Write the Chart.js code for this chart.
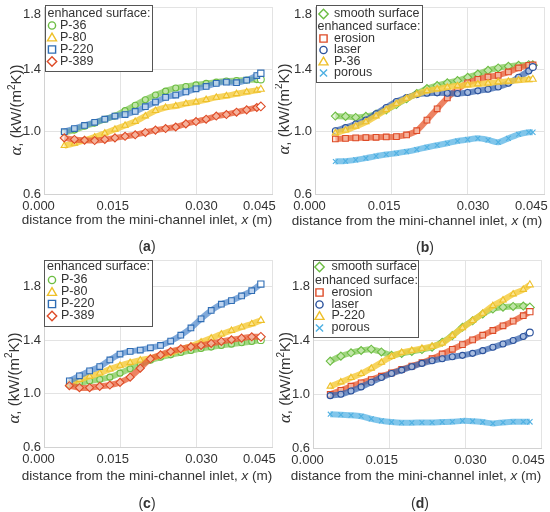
<!DOCTYPE html>
<html>
<head>
<meta charset="utf-8">
<title>Heat transfer coefficient along the mini-channel</title>
<script src="https://cdn.jsdelivr.net/npm/chart.js@4.4.1/dist/chart.umd.min.js"></script>
<style>
  html, body { margin: 0; padding: 0; background: #fff; }
  #wrap { position: relative; width: 550px; height: 512px; overflow: hidden; }
  #wrap canvas { position: absolute; }
</style>
</head>
<body>
<div id="wrap">
  <canvas id="chartA" width="300" height="256" style="left:0;top:0"></canvas>
  <canvas id="chartB" width="275" height="256" style="left:275px;top:0"></canvas>
  <canvas id="chartC" width="300" height="256" style="left:0;top:256px"></canvas>
  <canvas id="chartD" width="275" height="256" style="left:275px;top:256px"></canvas>
</div>
<script>
// ---- data ----
const xTickValues = [0, 0.015, 0.030, 0.045];
const xTickLabels = ['0.000', '0.015', '0.030', '0.045'];
const yTicksShort = [0.6, 1.0, 1.4, 1.8];
const yTicksTall = [0.6, 1.0, 1.4, 1.8, 2.0];
const yTickLabels = ['0.6', '1.0', '1.4', '1.8', ''];

// distance from inlet, x (m)
const xAB = [0.004, 0.006, 0.008, 0.010, 0.012, 0.014, 0.016, 0.018, 0.020, 0.022, 0.024, 0.026, 0.028, 0.030, 0.032, 0.034, 0.036, 0.038, 0.040, 0.042, 0.0428];
const xC = [0.005, 0.007, 0.009, 0.011, 0.013, 0.015, 0.017, 0.019, 0.021, 0.023, 0.025, 0.027, 0.029, 0.031, 0.033, 0.035, 0.037, 0.039, 0.041, 0.0428];
const xD = [0.0034, 0.0055, 0.0075, 0.0095, 0.0115, 0.0135, 0.0155, 0.0175, 0.0195, 0.0215, 0.0235, 0.0255, 0.0275, 0.0295, 0.0315, 0.0335, 0.0355, 0.0375, 0.0395, 0.0415, 0.0428];

// (a) alpha, kW/(m2K)
const aP36 = [0.995, 1.01, 1.035, 1.055, 1.08, 1.10, 1.135, 1.17, 1.205, 1.235, 1.26, 1.28, 1.29, 1.30, 1.31, 1.318, 1.325, 1.328, 1.331, 1.334, 1.335];
const aP80 = [0.91, 0.925, 0.945, 0.965, 0.99, 1.015, 1.04, 1.065, 1.10, 1.135, 1.155, 1.165, 1.18, 1.19, 1.205, 1.22, 1.23, 1.243, 1.255, 1.265, 1.272];
const aP220 = [1.00, 1.02, 1.04, 1.06, 1.08, 1.10, 1.11, 1.13, 1.16, 1.19, 1.22, 1.235, 1.255, 1.275, 1.29, 1.31, 1.318, 1.314, 1.33, 1.36, 1.375];
const aP389 = [0.96, 0.95, 0.945, 0.943, 0.95, 0.96, 0.97, 0.98, 0.995, 1.01, 1.02, 1.03, 1.05, 1.065, 1.08, 1.10, 1.11, 1.125, 1.14, 1.155, 1.162];

// (b)
const bSmooth = [1.10, 1.098, 1.091, 1.098, 1.113, 1.14, 1.174, 1.211, 1.245, 1.277, 1.296, 1.313, 1.328, 1.349, 1.37, 1.394, 1.409, 1.419, 1.426, 1.43, 1.426];
const bErosion = [0.953, 0.957, 0.96, 0.962, 0.964, 0.966, 0.968, 0.979, 1.006, 1.074, 1.147, 1.217, 1.272, 1.313, 1.336, 1.351, 1.362, 1.383, 1.409, 1.426, 1.426];
const bLaser = [1.006, 1.026, 1.049, 1.074, 1.115, 1.155, 1.194, 1.219, 1.238, 1.247, 1.249, 1.247, 1.245, 1.251, 1.262, 1.272, 1.287, 1.311, 1.349, 1.389, 1.415];
const bP36 = [0.991, 1.009, 1.034, 1.062, 1.10, 1.14, 1.179, 1.213, 1.24, 1.262, 1.274, 1.285, 1.294, 1.30, 1.306, 1.311, 1.319, 1.323, 1.33, 1.334, 1.336];
const bPorous = [0.809, 0.811, 0.819, 0.83, 0.843, 0.853, 0.862, 0.872, 0.885, 0.90, 0.913, 0.926, 0.94, 0.949, 0.957, 0.947, 0.932, 0.957, 0.983, 0.996, 0.996];

// (c)
const cP36 = [1.067, 1.079, 1.094, 1.106, 1.123, 1.153, 1.185, 1.22, 1.25, 1.272, 1.29, 1.307, 1.322, 1.337, 1.348, 1.36, 1.37, 1.38, 1.39, 1.40];
const cP80 = [1.077, 1.104, 1.128, 1.153, 1.183, 1.21, 1.232, 1.25, 1.265, 1.285, 1.305, 1.33, 1.355, 1.385, 1.415, 1.445, 1.472, 1.497, 1.522, 1.548];
const cP220 = [1.095, 1.133, 1.17, 1.202, 1.252, 1.296, 1.316, 1.326, 1.343, 1.36, 1.393, 1.437, 1.491, 1.56, 1.622, 1.669, 1.696, 1.731, 1.77, 1.82];
const cP389 = [1.059, 1.044, 1.044, 1.054, 1.064, 1.084, 1.123, 1.19, 1.26, 1.29, 1.315, 1.335, 1.35, 1.36, 1.375, 1.39, 1.403, 1.415, 1.425, 1.425];

// (d)
const dSmooth = [1.247, 1.284, 1.309, 1.326, 1.336, 1.315, 1.291, 1.304, 1.319, 1.333, 1.351, 1.388, 1.437, 1.499, 1.548, 1.598, 1.635, 1.649, 1.654, 1.657, 1.647];
const dErosion = [1.0, 1.03, 1.06, 1.085, 1.11, 1.135, 1.16, 1.185, 1.21, 1.235, 1.265, 1.30, 1.335, 1.37, 1.405, 1.44, 1.475, 1.51, 1.545, 1.585, 1.615];
const dLaser = [0.99, 1.0, 1.025, 1.055, 1.09, 1.125, 1.155, 1.18, 1.205, 1.23, 1.25, 1.265, 1.28, 1.29, 1.305, 1.325, 1.35, 1.375, 1.40, 1.43, 1.46];
const dP220 = [1.059, 1.091, 1.123, 1.153, 1.193, 1.237, 1.281, 1.311, 1.326, 1.341, 1.356, 1.38, 1.437, 1.494, 1.548, 1.602, 1.659, 1.701, 1.746, 1.78, 1.815];
const dPorous = [0.852, 0.847, 0.844, 0.837, 0.817, 0.802, 0.793, 0.788, 0.788, 0.79, 0.79, 0.793, 0.795, 0.802, 0.80, 0.793, 0.783, 0.79, 0.795, 0.795, 0.795];

const legendHeader = 'enhanced surface:';

// ---- look ----
const FONT = '"Liberation Sans", Arial, Helvetica, sans-serif';
const TEXT = '#333';
const GRID = '#e3e3e3';
const AXIS = '#d2d2d2';

const palette = {
  green:  {stroke: '#6cbd43', band: 'rgba(138, 204, 96, 0.8)',  fill: 'rgba(214, 240, 195, 0.6)'},
  yellow: {stroke: '#eec02a', band: 'rgba(246, 204, 66, 0.85)', fill: 'rgba(255, 240, 180, 0.6)'},
  blue:   {stroke: '#2f6db4', band: 'rgba(86, 140, 205, 0.75)', fill: 'rgba(215, 230, 248, 0.7)'},
  red:    {stroke: '#de4b27', band: 'rgba(232, 100, 60, 0.8)',  fill: 'rgba(252, 210, 195, 0.6)'},
  navy:   {stroke: '#2b529c', band: 'rgba(62, 105, 178, 0.75)', fill: 'rgba(205, 218, 240, 0.6)'},
  sky:    {stroke: '#4fb0e2', band: 'rgba(98, 184, 230, 0.8)',  fill: 'rgba(210, 235, 250, 0.6)'}
};
const markerRadius = {circle: 3, triangle: 3.6, rect: 4, rectRot: 4, crossRot: 3.4};

// px shift of each x tick label from its grid line (as in the original figure)
const xLabelShift = [-6, -7, 5, -13];

const panels = [
  {
    canvas: 'chartA', letter: 'a', width: 300, height: 256,
    area: {left: 44, top: 7, right: 272, bottom: 194},
    yMax: 1.8, yTicks: yTicksShort, topLabelDown: true,
    yTitleAt: [17, 110], xTitleAt: [147, 220], captionAt: [147, 247],
    legend: {x: 45, y: 5, w: 107, h: 66, headerX: 47.5, markerX: 52, textX: 60,
             rowY: [14, 25.5, 37.5, 49.5, 61.5], rows: ['header', 0, 1, 2, 3]},
    series: [
      {label: 'P-36', x: xAB, y: aP36, color: 'green', marker: 'circle'},
      {label: 'P-80', x: xAB, y: aP80, color: 'yellow', marker: 'triangle'},
      {label: 'P-220', x: xAB, y: aP220, color: 'blue', marker: 'rect'},
      {label: 'P-389', x: xAB, y: aP389, color: 'red', marker: 'rectRot'}
    ]
  },
  {
    canvas: 'chartB', letter: 'b', width: 275, height: 256,
    area: {left: 40, top: 7, right: 269, bottom: 194},
    yMax: 1.8, yTicks: yTicksShort, topLabelDown: true,
    yTitleAt: [9.5, 109], xTitleAt: [142, 221], captionAt: [150, 248],
    legend: {x: 41, y: 5, w: 106, h: 77, headerX: 42.5, markerX: 48.5, textX: 59,
             rowY: [14, 26.5, 38.5, 50, 61.5, 73], rows: [0, 'header', 1, 2, 3, 4]},
    series: [
      {label: 'smooth surface', x: xAB, y: bSmooth, color: 'green', marker: 'rectRot'},
      {label: 'erosion', x: xAB, y: bErosion, color: 'red', marker: 'rect'},
      {label: 'laser', x: xAB, y: bLaser, color: 'navy', marker: 'circle'},
      {label: 'P-36', x: xAB, y: bP36, color: 'yellow', marker: 'triangle'},
      {label: 'porous', x: xAB, y: bPorous, color: 'sky', marker: 'crossRot'}
    ]
  },
  {
    canvas: 'chartC', letter: 'c', width: 300, height: 256,
    area: {left: 44, top: 4, right: 272, bottom: 191},
    yMax: 2.0, yTicks: yTicksTall, topLabelDown: false,
    yTitleAt: [14.5, 122], xTitleAt: [147, 220], captionAt: [147, 248],
    legend: {x: 44, y: 4, w: 108, h: 66, headerX: 47, markerX: 52, textX: 61,
             rowY: [11, 24, 36, 48, 60], rows: ['header', 0, 1, 2, 3]},
    series: [
      {label: 'P-36', x: xC, y: cP36, color: 'green', marker: 'circle'},
      {label: 'P-80', x: xC, y: cP80, color: 'yellow', marker: 'triangle'},
      {label: 'P-220', x: xC, y: cP220, color: 'blue', marker: 'rect'},
      {label: 'P-389', x: xC, y: cP389, color: 'red', marker: 'rectRot'}
    ]
  },
  {
    canvas: 'chartD', letter: 'd', width: 275, height: 256,
    area: {left: 38, top: 4, right: 266, bottom: 192},
    yMax: 2.0, yTicks: yTicksTall, topLabelDown: false,
    yTitleAt: [11, 121.5], xTitleAt: [141, 220], captionAt: [145, 248],
    legend: {x: 38, y: 4, w: 105, h: 77, headerX: 40, markerX: 44.5, textX: 56.5,
             rowY: [11, 24.5, 36.5, 48.5, 60, 72], rows: [0, 'header', 1, 2, 3, 4]},
    series: [
      {label: 'smooth surface', x: xD, y: dSmooth, color: 'green', marker: 'rectRot'},
      {label: 'erosion', x: xD, y: dErosion, color: 'red', marker: 'rect'},
      {label: 'laser', x: xD, y: dLaser, color: 'navy', marker: 'circle'},
      {label: 'P-220', x: xD, y: dP220, color: 'yellow', marker: 'triangle'},
      {label: 'porous', x: xD, y: dPorous, color: 'sky', marker: 'crossRot'}
    ]
  }
];

// ---- helpers ----
const measureCtx = document.createElement('canvas').getContext('2d');
measureCtx.font = '13px ' + FONT;
const spaceWidth = measureCtx.measureText(' ').width || 3.6;

function shifted(text, px) {
  const pad = ' '.repeat(Math.round(Math.abs(px) * 2 / spaceWidth));
  return px < 0 ? text + pad : pad + text;
}

// draw a run of differently styled text pieces on one line
function drawRuns(ctx, runs, x, y) {
  let w = 0;
  runs.forEach(r => { ctx.font = r.f; w += ctx.measureText(r.t).width; });
  let cx = x - w / 2;
  runs.forEach(r => {
    ctx.font = r.f;
    ctx.fillText(r.t, cx, y + (r.dy || 0));
    cx += ctx.measureText(r.t).width;
  });
}

function drawMarker(ctx, style, color, x, y) {
  ctx.save();
  ctx.strokeStyle = color;
  ctx.fillStyle = '#fff';
  ctx.lineWidth = 1.4;
  ctx.beginPath();
  switch (style) {
    case 'circle': ctx.arc(x, y, 3.6, 0, Math.PI * 2); break;
    case 'triangle': ctx.moveTo(x, y - 4.3); ctx.lineTo(x + 4.5, y + 3.4); ctx.lineTo(x - 4.5, y + 3.4); ctx.closePath(); break;
    case 'rect': ctx.rect(x - 3.6, y - 3.6, 7.2, 7.2); break;
    case 'rectRot': ctx.moveTo(x, y - 4.7); ctx.lineTo(x + 4.7, y); ctx.lineTo(x, y + 4.7); ctx.lineTo(x - 4.7, y); ctx.closePath(); break;
    case 'crossRot': ctx.moveTo(x - 3.6, y - 3.6); ctx.lineTo(x + 3.6, y + 3.6); ctx.moveTo(x + 3.6, y - 3.6); ctx.lineTo(x - 3.6, y + 3.6); break;
  }
  if (style !== 'crossRot') ctx.fill();
  ctx.stroke();
  ctx.restore();
}

const yTitleRuns = [
  {t: 'α', f: 'italic 17px "Liberation Serif", serif'},
  {t: ', (kW/(m', f: '15px ' + FONT},
  {t: '2', f: '10px ' + FONT, dy: -5},
  {t: 'K))', f: '15px ' + FONT}
];
const xTitleRuns = [
  {t: 'distance from the mini-channel inlet, ', f: '13.5px ' + FONT},
  {t: 'x', f: 'italic 13.5px ' + FONT},
  {t: ' (m)', f: '13.5px ' + FONT}
];

function decorPlugin(p) {
  return {
    id: 'panelDecor',
    afterDraw(chart) {
      const ctx = chart.ctx;
      ctx.save();
      ctx.fillStyle = TEXT;
      ctx.textBaseline = 'middle';
      ctx.textAlign = 'left';

      // y title, rotated
      ctx.save();
      ctx.translate(p.yTitleAt[0], p.yTitleAt[1]);
      ctx.rotate(-Math.PI / 2);
      drawRuns(ctx, yTitleRuns, 0, 0);
      ctx.restore();

      drawRuns(ctx, xTitleRuns, p.xTitleAt[0], p.xTitleAt[1]);
      drawRuns(ctx, [
        {t: '(', f: '14px ' + FONT},
        {t: p.letter, f: 'bold 14px ' + FONT},
        {t: ')', f: '14px ' + FONT}
      ], p.captionAt[0], p.captionAt[1]);

      // legend box
      const lg = p.legend;
      ctx.fillStyle = '#fff';
      ctx.fillRect(lg.x, lg.y, lg.w, lg.h);
      ctx.strokeStyle = '#555';
      ctx.lineWidth = 1;
      ctx.strokeRect(lg.x + 0.5, lg.y + 0.5, lg.w, lg.h);
      ctx.font = '12.5px ' + FONT;
      lg.rows.forEach((row, i) => {
        const y = lg.rowY[i];
        ctx.fillStyle = TEXT;
        if (row === 'header') {
          ctx.fillText(legendHeader, lg.headerX, y);
        } else {
          const s = p.series[row];
          drawMarker(ctx, s.marker, palette[s.color].stroke, lg.markerX, y);
          ctx.fillStyle = TEXT;
          ctx.font = '12.5px ' + FONT;
          ctx.fillText(s.label, lg.textX, y);
        }
      });
      ctx.restore();
    }
  };
}

function makeDataset(s, i, count) {
  const st = palette[s.color];
  const last = s.y.length - 1;
  const r = markerRadius[s.marker];
  return {
    label: s.label,
    data: s.x.map((x, k) => ({x: x, y: s.y[k]})),
    order: count - i,
    borderColor: st.band,
    borderWidth: 6,
    tension: 0.25,
    pointStyle: s.marker,
    pointRadius: c => c.dataIndex === last ? r + 0.4 : r,
    pointBorderWidth: 1.1,
    pointBorderColor: st.stroke,
    pointBackgroundColor: c => c.dataIndex === last ? '#fff' : st.fill
  };
}

function createPanel(p) {
  const tickFont = {family: FONT, size: 13};
  const ctx = document.getElementById(p.canvas);
  return new Chart(ctx, {
    type: 'line',
    data: {datasets: p.series.map((s, i) => makeDataset(s, i, p.series.length))},
    options: {
      responsive: false,
      animation: false,
      events: [],
      layout: {
        autoPadding: false,
        padding: {left: 0, top: p.area.top, right: p.width - p.area.right, bottom: 0}
      },
      plugins: {legend: {display: false}, tooltip: {enabled: false}},
      scales: {
        x: {
          type: 'linear', min: 0, max: 0.045,
          afterBuildTicks: sc => { sc.ticks = xTickValues.map(v => ({value: v})); },
          afterFit: sc => { sc.height = p.height - p.area.bottom; sc.paddingLeft = 0; sc.paddingRight = 0; },
          ticks: {
            autoSkip: false, maxRotation: 0, minRotation: 0, padding: 5,
            color: TEXT, font: tickFont,
            callback: (v, i) => shifted(xTickLabels[i], xLabelShift[i])
          },
          grid: {color: GRID, drawTicks: false},
          border: {color: AXIS}
        },
        y: {
          type: 'linear', min: 0.6, max: p.yMax,
          afterBuildTicks: sc => { sc.ticks = p.yTicks.map(v => ({value: v})); },
          afterFit: sc => { sc.width = p.area.left; sc.paddingTop = 0; sc.paddingBottom = 0; },
          ticks: {
            autoSkip: false, padding: 3, color: TEXT, font: tickFont,
            callback: (v, i) => (p.topLabelDown && i === 3) ? ['', yTickLabels[i]] : yTickLabels[i]
          },
          grid: {color: GRID, drawTicks: false},
          border: {color: AXIS}
        }
      }
    },
    plugins: [decorPlugin(p)]
  });
}

panels.forEach(createPanel);
</script>
</body>
</html>
